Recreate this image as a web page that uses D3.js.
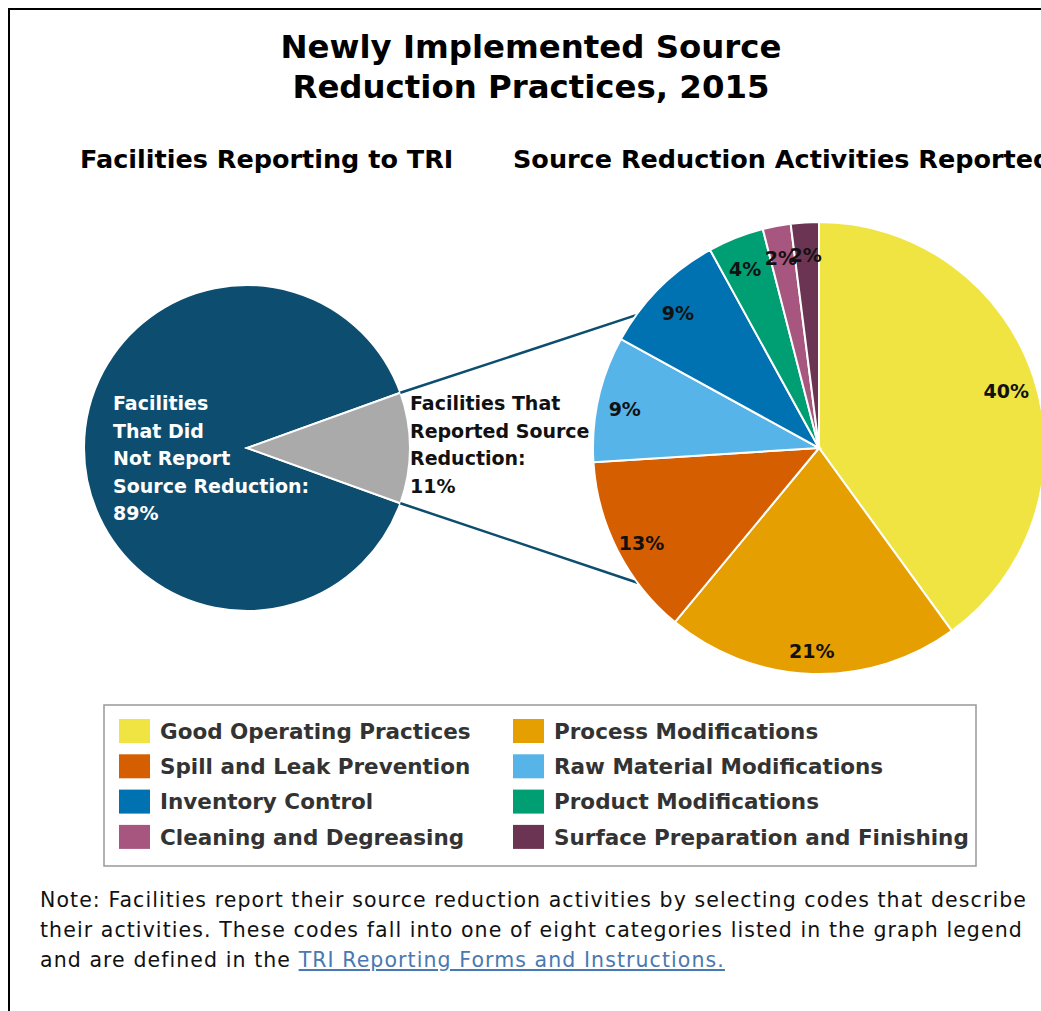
<!DOCTYPE html>
<html><head><meta charset="utf-8">
<script src="https://cdn.jsdelivr.net/npm/d3@7"></script>
<style>
html,body{margin:0;padding:0;background:#fff;}
svg{display:block;}
</style></head>
<body>
<svg id="c" width="1041" height="1011"></svg>
<script>
// ---- data ----
const titleLines = ["Newly Implemented Source", "Reduction Practices, 2015"];
const leftTitle = "Facilities Reporting to TRI";
const rightTitle = "Source Reduction Activities Reported";
const facilityCategories = ["Facilities That Did Not Report Source Reduction", "Facilities That Reported Source Reduction"];
const facilityValues = [89, 11];
const facilityColors = ["#0d4d6f", "#aaaaaa"];
const facilityLabelLines = [
  ["Facilities", "That Did", "Not Report", "Source Reduction:", "89%"],
  ["Facilities That", "Reported Source", "Reduction:", "11%"]
];
const activityCategories = ["Good Operating Practices", "Process Modifications", "Spill and Leak Prevention",
  "Raw Material Modifications", "Inventory Control", "Product Modifications",
  "Cleaning and Degreasing", "Surface Preparation and Finishing"];
const activityValues = [40, 21, 13, 9, 9, 4, 2, 2];
const activityColors = ["#f0e442", "#e69f00", "#d55e00", "#56b4e9", "#0072b2", "#009e73", "#a6567f", "#6b3452"];
const noteLines = [
  "Note: Facilities report their source reduction activities by selecting codes that describe",
  "their activities. These codes fall into one of eight categories listed in the graph legend",
  "and are defined in the "
];
const linkText = "TRI Reporting Forms and Instructions.";

// ---- drawing ----
const svg = d3.select("#c");
const FONT = "'DejaVu Sans', Verdana, sans-serif";

// outer frame (extends past right/bottom edge)
svg.append("rect").attr("x", 9).attr("y", 9).attr("width", 1100).attr("height", 1100)
  .attr("fill", "none").attr("stroke", "#000").attr("stroke-width", 2);

// title
svg.append("text").attr("text-anchor", "middle").attr("font-family", FONT)
  .attr("font-weight", "bold").attr("font-size", 32.4).attr("fill", "#000")
  .selectAll("tspan").data(titleLines).join("tspan")
  .attr("x", 531).attr("y", (d, i) => 58 + i * 40).text(d => d);

svg.append("text").attr("x", 80).attr("y", 168).attr("text-anchor", "start")
  .attr("font-family", FONT).attr("font-weight", "bold").attr("font-size", 25.5).text(leftTitle);
svg.append("text").attr("x", 513).attr("y", 168).attr("text-anchor", "start")
  .attr("font-family", FONT).attr("font-weight", "bold").attr("font-size", 25.5).text(rightTitle);

// left pie
const lc = [247, 448], lr = 163;
const leftPie = d3.pie().sort(null).value(d => d)
  .startAngle(Math.PI / 2 + (facilityValues[1] / 100) * Math.PI)
  .endAngle(Math.PI / 2 + (facilityValues[1] / 100) * Math.PI + 2 * Math.PI);
const leftArc = d3.arc().innerRadius(0).outerRadius(lr);
const lg = svg.append("g").attr("transform", `translate(${lc[0]},${lc[1]})`);
const leftArcs = leftPie(facilityValues);
lg.selectAll("path").data(leftArcs).join("path")
  .attr("d", leftArc).attr("fill", (d, i) => facilityColors[i])
  .attr("stroke", "#fff").attr("stroke-width", 2);

// right pie
const rc = [819, 448], rr = 226;
const rightPie = d3.pie().sort(null).value(d => d);
const rightArc = d3.arc().innerRadius(0).outerRadius(rr);
const labelArc = d3.arc().innerRadius(198).outerRadius(198);

// connector lines from grey slice edges to the right pie's edge
const gs = leftArcs[1];
const p1 = [lc[0] + lr * Math.sin(gs.startAngle), lc[1] - lr * Math.cos(gs.startAngle)];
const p2 = [lc[0] + lr * Math.sin(gs.endAngle), lc[1] - lr * Math.cos(gs.endAngle)];
const ang1 = -54 * Math.PI / 180, ang2 = -126.6 * Math.PI / 180;
svg.append("line").attr("x1", p1[0]).attr("y1", p1[1])
  .attr("x2", rc[0] + rr * Math.sin(ang1)).attr("y2", rc[1] - rr * Math.cos(ang1))
  .attr("stroke", "#0d4d6f").attr("stroke-width", 2.5);
svg.append("line").attr("x1", p2[0]).attr("y1", p2[1])
  .attr("x2", rc[0] + rr * Math.sin(ang2)).attr("y2", rc[1] - rr * Math.cos(ang2))
  .attr("stroke", "#0d4d6f").attr("stroke-width", 2.5);

const rg = svg.append("g").attr("transform", `translate(${rc[0]},${rc[1]})`);
const rightArcs = rightPie(activityValues);
rg.selectAll("path").data(rightArcs).join("path")
  .attr("d", rightArc).attr("fill", (d, i) => activityColors[i])
  .attr("stroke", "#fff").attr("stroke-width", 2);
rg.selectAll("text").data(rightArcs).join("text")
  .attr("transform", d => { const c = labelArc.centroid(d); return `translate(${c[0] - 1},${c[1] + 5})`; })
  .attr("text-anchor", "middle").attr("dy", "0.35em")
  .attr("font-family", FONT).attr("font-weight", "bold").attr("font-size", 19).attr("fill", "#111")
  .text(d => d.value + "%");

// left pie labels
svg.append("text").attr("font-family", FONT).attr("font-weight", "bold").attr("font-size", 19)
  .attr("fill", "#fff")
  .selectAll("tspan").data(facilityLabelLines[0]).join("tspan")
  .attr("x", 113).attr("y", (d, i) => 410 + i * 27.5).text(d => d);
svg.append("text").attr("font-family", FONT).attr("font-weight", "bold").attr("font-size", 19)
  .attr("fill", "#111")
  .selectAll("tspan").data(facilityLabelLines[1]).join("tspan")
  .attr("x", 410).attr("y", (d, i) => 410 + i * 27.5).text(d => d);

// legend
svg.append("rect").attr("x", 104).attr("y", 705).attr("width", 872).attr("height", 161)
  .attr("fill", "#fff").attr("stroke", "#999").attr("stroke-width", 1.5);
const leg = svg.append("g");
const items = leg.selectAll("g").data(activityCategories).join("g")
  .attr("transform", (d, i) => `translate(${i % 2 === 0 ? 119 : 513},${719 + Math.floor(i / 2) * 35.3})`);
items.append("rect").attr("width", 31).attr("height", 24).attr("fill", (d, i) => activityColors[i]);
items.append("text").attr("x", 41).attr("y", 12).attr("dy", "0.36em")
  .attr("font-family", FONT).attr("font-weight", "bold").attr("font-size", 21.5).attr("fill", "#333")
  .text(d => d);

// note
const nt = svg.append("g").attr("font-family", FONT).attr("font-size", 20.5).attr("fill", "#111");
const noteTexts = nt.selectAll("text").data(noteLines).join("text")
  .attr("x", 40).attr("y", (d, i) => 907 + i * 30);
noteTexts.append("tspan").text(d => d);
const w1 = noteTexts.nodes()[0].getComputedTextLength();
const ls = (987 - w1) / noteLines[0].length;
noteTexts.attr("letter-spacing", ls);
noteTexts.filter((d, i) => i === 2).append("tspan").attr("fill", "#4a78b0")
  .attr("text-decoration", "underline").text(linkText);
</script>
</body></html>
